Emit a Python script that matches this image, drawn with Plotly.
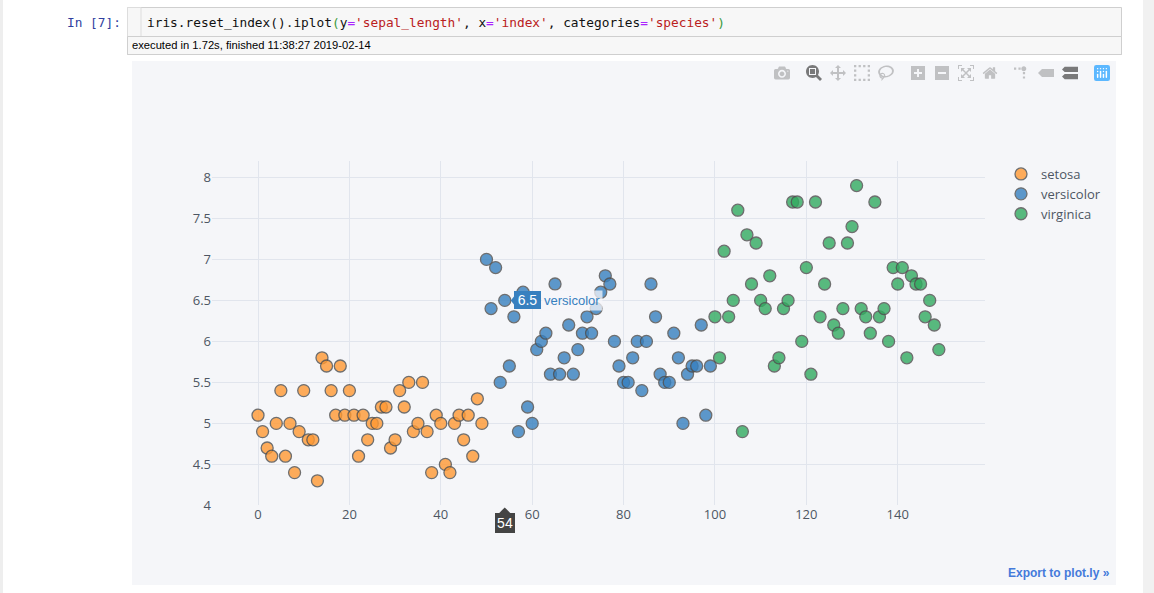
#!/usr/bin/env python3
# -*- coding: utf-8 -*-
import plotly.graph_objects as go

W = 1154
H = 593

species = ['setosa', 'versicolor', 'virginica']
setosa_index = list(range(0, 50))
setosa_sepal = [5.1, 4.9, 4.7, 4.6, 5.0, 5.4, 4.6, 5.0, 4.4, 4.9, 5.4, 4.8, 4.8, 4.3, 5.8, 5.7, 5.4,
                5.1, 5.7, 5.1, 5.4, 5.1, 4.6, 5.1, 4.8, 5.0, 5.0, 5.2, 5.2, 4.7, 4.8, 5.4, 5.2, 5.5,
                4.9, 5.0, 5.5, 4.9, 4.4, 5.1, 5.0, 4.5, 4.4, 5.0, 5.1, 4.8, 5.1, 4.6, 5.3, 5.0]
versicolor_index = list(range(50, 100))
versicolor_sepal = [7.0, 6.4, 6.9, 5.5, 6.5, 5.7, 6.3, 4.9, 6.6, 5.2, 5.0, 5.9, 6.0, 6.1, 5.6, 6.7, 5.6,
                    5.8, 6.2, 5.6, 5.9, 6.1, 6.3, 6.1, 6.4, 6.6, 6.8, 6.7, 6.0, 5.7, 5.5, 5.5, 5.8, 6.0,
                    5.4, 6.0, 6.7, 6.3, 5.6, 5.5, 5.5, 6.1, 5.8, 5.0, 5.6, 5.7, 5.7, 6.2, 5.1, 5.7]
virginica_index = list(range(100, 150))
virginica_sepal = [6.3, 5.8, 7.1, 6.3, 6.5, 7.6, 4.9, 7.3, 6.7, 7.2, 6.5, 6.4, 6.8, 5.7, 5.8, 6.4, 6.5,
                   7.7, 7.7, 6.0, 6.9, 5.6, 7.7, 6.3, 6.7, 7.2, 6.2, 6.1, 6.4, 7.2, 7.4, 7.9, 6.4, 6.3,
                   6.1, 7.7, 6.3, 6.4, 6.0, 6.9, 6.7, 6.9, 5.8, 6.8, 6.7, 6.7, 6.3, 6.5, 6.2, 5.9]
colors = ['rgb(255,153,51)', 'rgb(55,128,191)', 'rgb(50,171,96)']
x_ticks = [0, 20, 40, 60, 80, 100, 120, 140]
y_ticks = [4, 4.5, 5, 5.5, 6, 6.5, 7, 7.5, 8]
y_tick_labels = ['4', '4.5', '5', '5.5', '6', '6.5', '7', '7.5', '8']
hover_index = 54
hover_value = 6.5
hover_species = 'versicolor'

TEXT = '#4D5663'
GRID = '#E1E5ED'
BG = '#F5F6F9'
MONO = 'DejaVu Sans Mono'


def px(x):
    return x / W


def py(y):
    return 1 - y / H


def rect(x0, y0, x1, y1, fill, line=None):
    return dict(type='rect', xref='paper', yref='paper', layer='below',
                x0=px(x0), x1=px(x1), y0=py(y0), y1=py(y1), fillcolor=fill,
                line=dict(color=line or fill, width=1 if line else 0))


def label(x, y, text, size, color, font, anchor='left'):
    return dict(xref='paper', yref='paper', x=px(x), y=py(y), text=text, showarrow=False,
                xanchor=anchor, yanchor='middle', borderpad=0,
                font=dict(size=size, color=color, family=font))


def span(text, color):
    return f'<span style="color:{color}">{text}</span>'


code = ('iris.reset_index()' + span('.', '#303030') + 'iplot' + span('(', '#3a9a3a') + 'y' + span('=', '#aa22ff')
        + span("'sepal_length'", '#ba2121') + ', x' + span('=', '#aa22ff') + span("'index'", '#ba2121')
        + ', categories' + span('=', '#aa22ff') + span("'species'", '#ba2121') + span(')', '#3a9a3a'))

fig = go.Figure()
for name, xs, ys, color in zip(species, [setosa_index, versicolor_index, virginica_index],
                               [setosa_sepal, versicolor_sepal, virginica_sepal], colors):
    fig.add_trace(go.Scatter(x=xs, y=ys, name=name, mode='markers',
                             marker=dict(size=12, color=color, opacity=0.8,
                                         line=dict(width=1.3, color='#4D4D4D'))))

shapes = [
    rect(0, 0, 3, H, '#EEEEEE'),
    rect(1143, 0, W, H, '#F1F1F1'),
    rect(127.5, 7.5, 1121.5, 54.5, '#F7F7F7', '#CFCFCF'),
    rect(127.5, 7.5, 141, 36.5, '#F7F7F7', '#DDDDDD'),
    rect(127.5, 36.5, 1121.5, 54.5, '#F7F7F7', '#CFCFCF'),
    rect(132, 61, 1116, 585, BG),
    # little tails on the hover labels, anchored on the hovered point
    dict(type='path', xref='x', yref='y', xsizemode='pixel', ysizemode='pixel',
         xanchor=hover_index, yanchor=hover_value, path='M 6 0 L 10 5 L 10 -5 Z',
         fillcolor='#3780BF', line=dict(width=0)),
    dict(type='path', xref='x', yref='paper', xsizemode='pixel', ysizemode='pixel',
         xanchor=hover_index, yanchor=py(505.4), path='M 0 -2 L -6 -8 L 6 -8 Z',
         fillcolor='#444444', line=dict(width=0)),
]

annotations = [
    label(66, 22, 'In [7]:', 12.8, '#303F9F', MONO),
    label(146, 22, code, 12.8, '#111111', MONO),
    label(131, 45.5, 'executed in 1.72s, finished 11:38:27 2019-02-14', 11.2, '#000000', 'Liberation Sans'),
    dict(xref='x', yref='y', x=hover_index, y=hover_value, text=str(hover_value), showarrow=False,
         xanchor='left', yanchor='middle', xshift=9, bgcolor='#3780BF', borderpad=0, borderwidth=0,
         width=27, height=18, font=dict(size=14, color='#FFFFFF', family='Liberation Sans')),
    dict(xref='x', yref='y', x=hover_index, y=hover_value, text=hover_species, showarrow=False,
         xanchor='left', yanchor='middle', xshift=36, bgcolor='rgba(245,246,249,0.75)', borderpad=2,
         font=dict(size=13, color='#3780BF', family='Liberation Sans')),
    dict(xref='x', yref='paper', x=hover_index, y=py(523), text=str(hover_index), showarrow=False,
         xanchor='center', yanchor='middle', bgcolor='#444444', borderpad=0, borderwidth=0,
         width=20, height=20, font=dict(size=14, color='#FFFFFF', family='Liberation Sans')),
    label(1110.5, 573, '<b>Export to plot.ly »</b>', 12, '#447ADB', 'Liberation Sans', anchor='right'),
]

fig.update_layout(
    width=W,
    height=H,
    autosize=False,
    margin=dict(l=0, r=0, t=0, b=0),
    paper_bgcolor='white',
    plot_bgcolor=BG,
    font=dict(family='Open Sans', size=13, color=TEXT),
    hovermode='x',
    dragmode='zoom',
    shapes=shapes,
    annotations=annotations,
    modebar=dict(bgcolor='rgba(0,0,0,0)', color='rgba(68,68,68,0.3)', activecolor='rgba(68,68,68,0.7)'),
    legend=dict(x=px(1001), y=py(159), xanchor='left', yanchor='top', bgcolor='rgba(0,0,0,0)',
                font=dict(size=13, color=TEXT)),
    xaxis=dict(domain=[px(212), px(985)], range=[-10.07, 159.1], tickmode='array', tickvals=x_ticks,
               gridcolor=GRID, zeroline=False, showline=False, tickfont=dict(color=TEXT), automargin=False),
    yaxis=dict(domain=[py(505.4), py(161.4)], range=[4, 8.195], tickmode='array', tickvals=y_ticks,
               ticktext=y_tick_labels, gridcolor=GRID, zeroline=False, showline=False,
               tickfont=dict(color=TEXT), automargin=False),
)

config = dict(
    displayModeBar=True,
    displaylogo=True,
    responsive=False,
    modeBarButtons=[['toImage'], ['zoom2d', 'pan2d', 'select2d', 'lasso2d'],
                    ['zoomIn2d', 'zoomOut2d', 'autoScale2d', 'resetScale2d'],
                    ['toggleSpikelines', 'hoverClosestCartesian', 'hoverCompareCartesian']],
)

# drop the default page margin, sit the modebar inside the grey panel, blue logo like the old one
post = """
document.body.style.margin = '0';
document.body.style.overflow = 'hidden';
var s = document.createElement('style');
s.textContent = '.js-plotly-plot .plotly .modebar{top:62px !important; right:40px !important;}'
  + '.modebar-btn--logo svg *{fill:#fff !important;}'
  + '.modebar-btn--logo svg > g > rect:first-child{fill:#5CB8FF !important;}';
document.head.appendChild(s);
"""

fig.write_html("out.html", config=config, post_script=post)
